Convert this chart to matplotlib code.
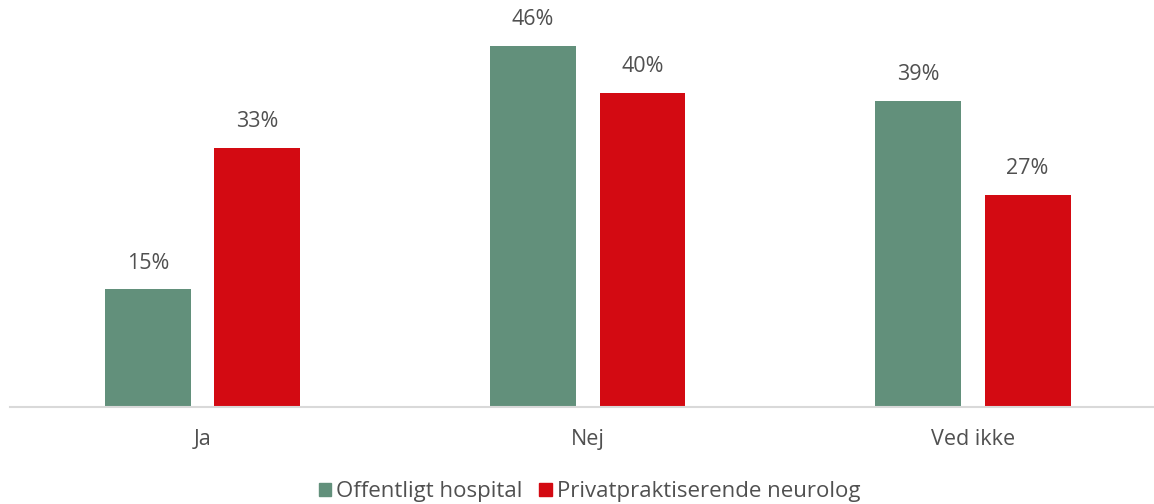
import numpy as np
import matplotlib
matplotlib.use('Agg')
from matplotlib import pyplot as plt
from matplotlib.patches import Patch

# svarfordeling pr. kategori (%)
kategorier = ['Ja', 'Nej', 'Ved ikke']
offentligt = [15, 46, 39]
privat = [33, 40, 27]
serier = ['Offentligt hospital', 'Privatpraktiserende neurolog']

groen = '#62907b'
roed = '#d30a12'
tekst = '#505050'

plt.rcParams['font.family'] = ['Open Sans', 'DejaVu Sans']

fig = plt.figure(figsize=(11.54, 5.04), dpi=100)
ax = fig.add_axes([10/1154, 97/504, 1144/1154, 407/504])

x = np.arange(len(kategorier))
b = 0.223
off = 0.142
s1 = ax.bar(x - off, offentligt, b, color=groen)
s2 = ax.bar(x + off, privat, b, color=roed)

for rects, vals in ((s1, offentligt), (s2, privat)):
	for r, v in zip(rects, vals):
		ax.text(r.get_x() + r.get_width()/2, v + 2.0, '{0}%'.format(v),
				ha='center', va='bottom', fontsize=15.5, color=tekst)

ax.set_xlim(-0.5, 2.47)
ax.set_ylim(0, 51.85)
ax.set_xticks(x)
ax.set_xticklabels(kategorier, fontsize=15.5, color=tekst)
ax.tick_params(axis='x', length=0, pad=16)
ax.set_yticks([])
for side in ('top', 'right', 'left'):
	ax.spines[side].set_visible(False)
ax.spines['bottom'].set_color('#d9d9d9')
ax.spines['bottom'].set_linewidth(1.5)

handles = [Patch(color=groen), Patch(color=roed)]
fig.legend(handles, serier, loc='center', bbox_to_anchor=(0.511, 12/504), ncol=2,
		   frameon=False, fontsize=16, labelcolor=tekst, handlelength=0.55,
		   handleheight=0.55, handletextpad=0.25, columnspacing=0.75)

fig.savefig('out.png', dpi=100)
